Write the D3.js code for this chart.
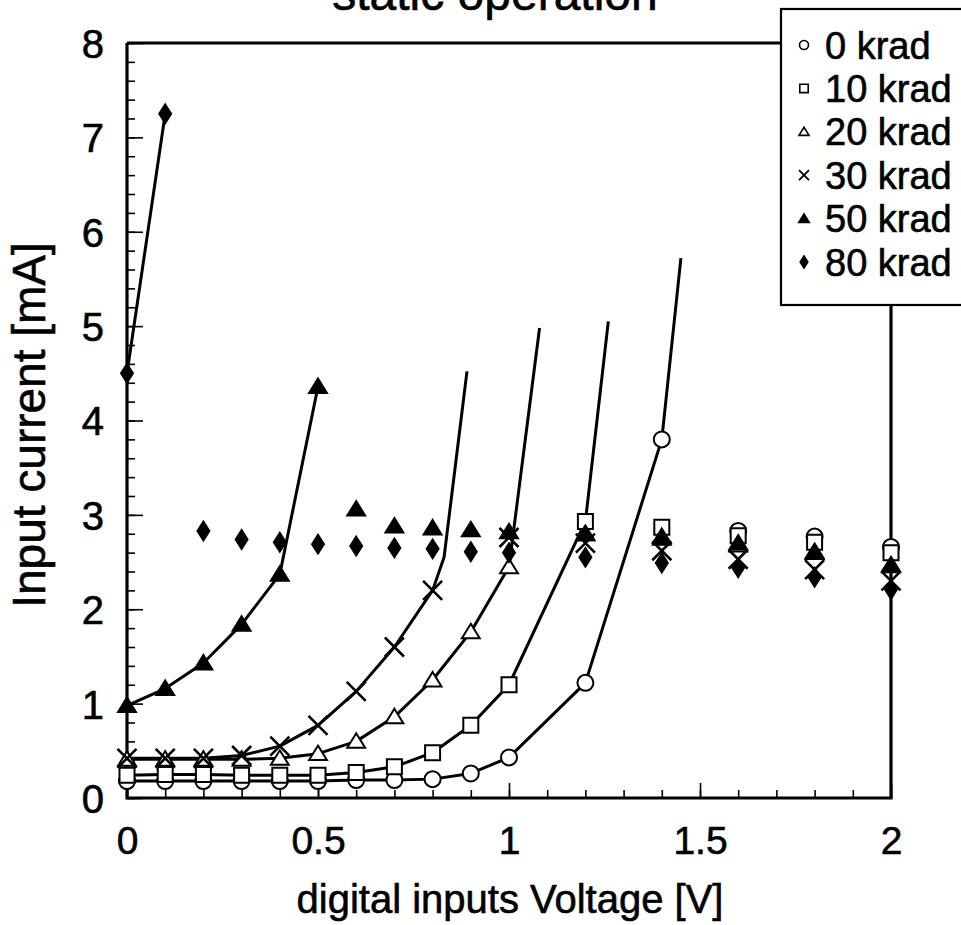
<!DOCTYPE html>
<html>
<head>
<meta charset="utf-8">
<script src="https://cdn.jsdelivr.net/npm/d3@7"></script>
<style>
  html, body { margin: 0; padding: 0; background: #fff; }
  svg { display: block; font-family: "Liberation Sans", Arial, Helvetica, sans-serif; }
  svg text { stroke: #000; stroke-width: 0.6px; }
</style>
</head>
<body>
<svg id="chart" width="961" height="925"></svg>
<script>
// ---------------- data ----------------
const seriesNames = ["0 krad", "10 krad", "20 krad", "30 krad", "50 krad", "80 krad"];
const seriesShapes = ["circle", "square", "triangle", "cross", "triangleFilled", "diamond"];

// connected (measured) points, unmarked tail, and unconnected points for each dose
const k0LineV = [0, 0.1, 0.2, 0.3, 0.4, 0.5, 0.6, 0.7, 0.8, 0.9, 1.0, 1.2, 1.4];
const k0LineI = [0.18, 0.18, 0.18, 0.18, 0.18, 0.18, 0.19, 0.19, 0.2, 0.26, 0.43, 1.22, 3.8];
const k0TailV = [1.45];
const k0TailI = [5.72];
const k0DotsV = [1.6, 1.8, 2.0];
const k0DotsI = [2.83, 2.77, 2.66];

const k10LineV = [0, 0.1, 0.2, 0.3, 0.4, 0.5, 0.6, 0.7, 0.8, 0.9, 1.0, 1.2];
const k10LineI = [0.24, 0.25, 0.25, 0.24, 0.24, 0.24, 0.27, 0.33, 0.48, 0.77, 1.2, 2.93];
const k10TailV = [1.26];
const k10TailI = [5.05];
const k10DotsV = [1.4, 1.6, 1.8, 2.0];
const k10DotsI = [2.87, 2.78, 2.71, 2.6];

const k20LineV = [0, 0.1, 0.2, 0.3, 0.4, 0.5, 0.6, 0.7, 0.8, 0.9, 1.0];
const k20LineI = [0.41, 0.41, 0.41, 0.41, 0.42, 0.47, 0.6, 0.86, 1.25, 1.76, 2.45];
const k20TailV = [1.08];
const k20TailI = [4.98];
const k20DotsV = [1.2, 1.4, 1.6, 1.8, 2.0];
const k20DotsI = [2.8, 2.75, 2.68, 2.6, 2.46];

const k30LineV = [0, 0.1, 0.2, 0.3, 0.4, 0.5, 0.6, 0.7, 0.8];
const k30LineI = [0.42, 0.42, 0.42, 0.45, 0.55, 0.77, 1.13, 1.6, 2.2];
const k30TailV = [0.83, 0.89];
const k30TailI = [2.55, 4.52];
const k30DotsV = [1.0, 1.2, 1.4, 1.6, 1.8, 2.0];
const k30DotsI = [2.76, 2.7, 2.62, 2.53, 2.42, 2.3];

const k50LineV = [0, 0.1, 0.2, 0.3, 0.4, 0.5];
const k50LineI = [0.98, 1.16, 1.43, 1.84, 2.37, 4.36];
const k50TailV = [];
const k50TailI = [];
const k50DotsV = [0.6, 0.7, 0.8, 0.9, 1.0, 1.2, 1.4, 1.6, 1.8, 2.0];
const k50DotsI = [3.06, 2.88, 2.86, 2.84, 2.82, 2.8, 2.77, 2.7, 2.61, 2.47];

const k80LineV = [0, 0.1];
const k80LineI = [4.5, 7.25];
const k80TailV = [];
const k80TailI = [];
const k80DotsV = [0.2, 0.3, 0.4, 0.5, 0.6, 0.7, 0.8, 0.9, 1.0, 1.2, 1.4, 1.6, 1.8, 2.0];
const k80DotsI = [2.83, 2.74, 2.71, 2.69, 2.67, 2.65, 2.64, 2.61, 2.6, 2.55, 2.49, 2.44, 2.34, 2.21];

const yTickValues = [0, 1, 2, 3, 4, 5, 6, 7, 8];
const xTickValues = [0, 0.5, 1, 1.5, 2];
const xTickLabels = ["0", "0.5", "1", "1.5", "2"];
const titleText = "static operation";
const xLabelText = "digital inputs Voltage [V]";
const yLabelText = "Input current [mA]";

// ---------------- build ----------------
const lineV = [k0LineV, k10LineV, k20LineV, k30LineV, k50LineV, k80LineV];
const lineI = [k0LineI, k10LineI, k20LineI, k30LineI, k50LineI, k80LineI];
const tailV = [k0TailV, k10TailV, k20TailV, k30TailV, k50TailV, k80TailV];
const tailI = [k0TailI, k10TailI, k20TailI, k30TailI, k50TailI, k80TailI];
const dotsV = [k0DotsV, k10DotsV, k20DotsV, k30DotsV, k50DotsV, k80DotsV];
const dotsI = [k0DotsI, k10DotsI, k20DotsI, k30DotsI, k50DotsI, k80DotsI];

const series = seriesNames.map((name, i) => ({
  name,
  shape: seriesShapes[i],
  line: lineV[i].map((v, j) => ({ v, c: lineI[i][j] })),
  tail: tailV[i].map((v, j) => ({ v, c: tailI[i][j] })),
  dots: dotsV[i].map((v, j) => ({ v, c: dotsI[i][j] }))
}));

const svg = d3.select("#chart");
const X0 = 127, X1 = 891, Y0 = 798, Y1 = 43;
const x = d3.scaleLinear().domain([0, 2]).range([X0, X1]);
const y = d3.scaleLinear().domain([0, 8]).range([Y0, Y1]);

// custom marker shapes (s = half-size)
const shapeTypes = {
  circle: { draw(ctx, s) { ctx.moveTo(s, 0); ctx.arc(0, 0, s, 0, 2 * Math.PI); } },
  square: { draw(ctx, s) { ctx.rect(-s, -s, 2 * s, 2 * s); } },
  triangle: { draw(ctx, s) { ctx.moveTo(0, -s * 0.95); ctx.lineTo(s * 1.05, s * 0.75); ctx.lineTo(-s * 1.05, s * 0.75); ctx.closePath(); } },
  triangleFilled: { draw(ctx, s) { ctx.moveTo(0, -s * 0.95); ctx.lineTo(s * 1.05, s * 0.75); ctx.lineTo(-s * 1.05, s * 0.75); ctx.closePath(); } },
  cross: { draw(ctx, s) { ctx.moveTo(-s, -s); ctx.lineTo(s, s); ctx.moveTo(s, -s); ctx.lineTo(-s, s); } },
  diamond: { draw(ctx, s) { ctx.moveTo(0, -s * 1.1); ctx.lineTo(s * 0.7, 0); ctx.lineTo(0, s * 1.1); ctx.lineTo(-s * 0.7, 0); ctx.closePath(); } }
};
const plotSize = { circle: 8, square: 7.5, triangle: 8.5, triangleFilled: 8.5, cross: 9.5, diamond: 8.5 };
const legendSize = { circle: 4.5, square: 4.2, triangle: 4.8, triangleFilled: 5, cross: 5, diamond: 5.5 };

function styleMarker(sel, shape) {
  const filled = shape === "triangleFilled" || shape === "diamond";
  sel.attr("fill", shape === "cross" ? "none" : (filled ? "#000" : "#fff"))
     .attr("stroke", "#000")
     .attr("stroke-width", shape === "cross" ? 2.6 : 2)
     .attr("stroke-linejoin", "miter");
}

// ----- axes ticks -----
const axisG = svg.append("g");
// x minor ticks
axisG.append("g").attr("transform", `translate(0,${Y0})`)
  .call(d3.axisBottom(x).tickValues(d3.range(0, 21).map(d => d / 10)).tickSize(-8).tickFormat(""))
  .call(g => g.select(".domain").remove());
// x major ticks + labels
axisG.append("g").attr("transform", `translate(0,${Y0})`)
  .call(d3.axisBottom(x).tickValues(xTickValues).tickSize(-15).tickFormat((d, i) => xTickLabels[i]))
  .call(g => g.select(".domain").remove())
  .call(g => g.selectAll("text").attr("y", 56).attr("dy", 0)
        .attr("font-size", 39).attr("fill", "#000")
        .attr("font-family", '"Liberation Sans", Arial, sans-serif'));
// y minor ticks
axisG.append("g").attr("transform", `translate(${X0},0)`)
  .call(d3.axisLeft(y).tickValues(d3.range(0, 41).map(d => d / 5)).tickSize(-8).tickFormat(""))
  .call(g => g.select(".domain").remove());
// y major ticks + labels
axisG.append("g").attr("transform", `translate(${X0},0)`)
  .call(d3.axisLeft(y).tickValues(yTickValues).tickSize(-16).tickFormat(d3.format("d")))
  .call(g => g.select(".domain").remove())
  .call(g => g.selectAll("text").attr("x", -23).attr("dy", "0.36em")
        .attr("font-size", 40).attr("fill", "#000")
        .attr("font-family", '"Liberation Sans", Arial, sans-serif'));
axisG.selectAll(".tick line").attr("stroke", "#000").attr("stroke-width", 1.6);

// ----- curves -----
const lineGen = d3.line().x(d => x(d.v)).y(d => y(d.c));
const curveG = svg.append("g");
series.forEach(s => {
  curveG.append("path")
    .datum(s.line.concat(s.tail))
    .attr("d", lineGen)
    .attr("fill", "none")
    .attr("stroke", "#000")
    .attr("stroke-width", 3)
    .attr("stroke-linejoin", "round");
});

// ----- frame -----
const LEG_X = 781, LEG_Y = 9, LEG_B = 305;
svg.append("path")
  .attr("d", `M${X0},${Y1} L${X0},${Y0} L${X1},${Y0} L${X1},${LEG_B}`)
  .attr("fill", "none").attr("stroke", "#000").attr("stroke-width", 3.2);
svg.append("line").attr("x1", X0).attr("x2", LEG_X).attr("y1", Y1).attr("y2", Y1)
  .attr("stroke", "#000").attr("stroke-width", 3);

// ----- markers -----
const markG = svg.append("g");
series.forEach(s => {
  const sym = d3.symbol().type(shapeTypes[s.shape]).size(plotSize[s.shape]);
  markG.selectAll(null)
    .data(s.line.concat(s.dots))
    .join("path")
    .attr("transform", d => `translate(${x(d.v)},${y(d.c)})`)
    .attr("d", sym)
    .call(styleMarker, s.shape);
});

// ----- legend -----
const leg = svg.append("g");
leg.append("rect").attr("x", LEG_X).attr("y", LEG_Y).attr("width", 200).attr("height", LEG_B - LEG_Y)
  .attr("fill", "#fff").attr("stroke", "#000").attr("stroke-width", 2.2);
series.forEach((s, i) => {
  const cy = 45 + i * 43.4;
  leg.append("path")
    .attr("transform", `translate(804,${cy})`)
    .attr("d", d3.symbol().type(shapeTypes[s.shape]).size(legendSize[s.shape]))
    .call(styleMarker, s.shape)
    .attr("stroke-width", s.shape === "cross" ? 1.8 : 1.6);
  leg.append("text").attr("x", 825).attr("y", cy).attr("dy", "0.36em")
    .attr("font-size", 38).attr("fill", "#000").text(s.name);
});

// ----- titles -----
svg.append("text").attr("x", 495).attr("y", 9.5).attr("text-anchor", "middle")
  .attr("font-size", 48).attr("fill", "#000").text(titleText);
svg.append("text").attr("x", 510).attr("y", 913).attr("text-anchor", "middle")
  .attr("font-size", 40).attr("fill", "#000").text(xLabelText);
svg.append("text").attr("transform", "translate(45,425) rotate(-90)").attr("text-anchor", "middle")
  .attr("font-size", 46).attr("fill", "#000").text(yLabelText);
</script>
</body>
</html>
